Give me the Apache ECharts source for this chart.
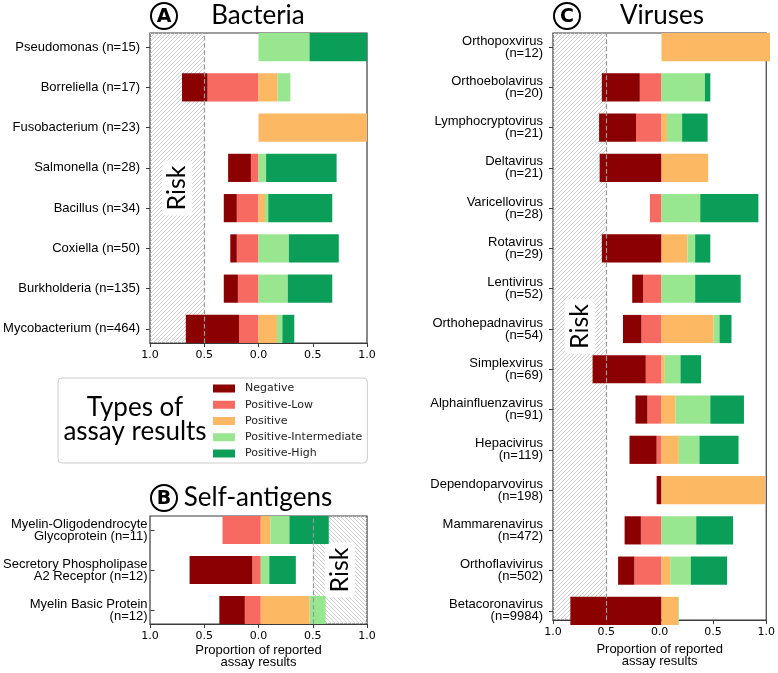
<!DOCTYPE html>
<html>
<head>
<meta charset="utf-8">
<script src="https://cdn.jsdelivr.net/npm/echarts@6/dist/echarts.min.js"></script>
<style>
html, body { margin: 0; padding: 0; background: #fff; }
#chart { width: 778px; height: 673px; }
</style>
</head>
<body>
<div id="chart"></div>
<script>
// assay result types, legend order
const resultTypes = ['Negative', 'Positive-Low', 'Positive', 'Positive-Intermediate', 'Positive-High'];
const resultColors = ['#8b0000', '#f76a62', '#fdb863', '#98e690', '#0a9e58'];

// A - bacteria (proportions)
const bacteria = ['Pseudomonas (n=15)', 'Borreliella (n=17)', 'Fusobacterium (n=23)', 'Salmonella (n=28)',
  'Bacillus (n=34)', 'Coxiella (n=50)', 'Burkholderia (n=135)', 'Mycobacterium (n=464)'];
const bacNegative = [0, 0.235, 0, 0.21, 0.12, 0.06, 0.13, 0.49];
const bacPosLow = [0, 0.47, 0, 0.07, 0.2, 0.2, 0.19, 0.18];
const bacPositive = [0, 0.176, 1.0, 0, 0.06, 0, 0, 0.17];
const bacPosInter = [0.47, 0.118, 0, 0.07, 0.03, 0.28, 0.27, 0.05];
const bacPosHigh = [0.53, 0, 0, 0.65, 0.59, 0.46, 0.41, 0.11];

// B - self-antigens
const selfAntigens = ['Myelin-Oligodendrocyte\nGlycoprotein (n=11)', 'Secretory Phospholipase\nA2 Receptor (n=12)',
  'Myelin Basic Protein\n(n=12)'];
const selfNegative = [0, 0.59, 0.24];
const selfPosLow = [0.36, 0.08, 0.15];
const selfPositive = [0.09, 0, 0.46];
const selfPosInter = [0.18, 0.08, 0.15];
const selfPosHigh = [0.37, 0.25, 0];

// C - viruses
const viruses = ['Orthopoxvirus\n(n=12)', 'Orthoebolavirus\n(n=20)', 'Lymphocryptovirus\n(n=21)', 'Deltavirus\n(n=21)',
  'Varicellovirus\n(n=28)', 'Rotavirus\n(n=29)', 'Lentivirus\n(n=52)', 'Orthohepadnavirus\n(n=54)',
  'Simplexvirus\n(n=69)', 'Alphainfluenzavirus\n(n=91)', 'Hepacivirus\n(n=119)', 'Dependoparvovirus\n(n=198)',
  'Mammarenavirus\n(n=472)', 'Orthoflavivirus\n(n=502)', 'Betacoronavirus\n(n=9984)'];
const virNegative = [0, 0.35, 0.34, 0.57, 0, 0.55, 0.10, 0.17, 0.49, 0.11, 0.25, 0.045, 0.15, 0.15, 0.84];
const virPosLow = [0, 0.2, 0.235, 0, 0.107, 0, 0.17, 0.185, 0.145, 0.13, 0.045, 0, 0.19, 0.25, 0];
const virPositive = [1.0, 0, 0.05, 0.43, 0, 0.24, 0, 0.48, 0.03, 0.13, 0.16, 0.955, 0, 0.08, 0.152];
const virPosInter = [0, 0.4, 0.14, 0, 0.357, 0.07, 0.31, 0.055, 0.145, 0.32, 0.19, 0, 0.32, 0.19, 0.008];
const virPosHigh = [0, 0.05, 0.235, 0, 0.536, 0.14, 0.42, 0.11, 0.19, 0.31, 0.36, 0, 0.34, 0.335, 0];

const axisName = 'Proportion of reported\nassay results';

// hatch pattern for the risk zone
function hatch(dir) {
  const s = 4;
  const c = document.createElement('canvas');
  c.width = s; c.height = s;
  const ctx = c.getContext('2d');
  ctx.strokeStyle = '#c8c8c8';
  ctx.lineWidth = 0.9;
  ctx.beginPath();
  for (let o = -s; o <= s; o += s) {
    if (dir === '/') { ctx.moveTo(o - 1, s + 1); ctx.lineTo(o + s + 1, -1); }
    else { ctx.moveTo(o - 1, -1); ctx.lineTo(o + s + 1, s + 1); }
  }
  ctx.stroke();
  return { image: c, repeat: 'repeat' };
}

const panels = [
  { key: 'A', cats: bacteria, vals: [bacNegative, bacPosLow, bacPositive, bacPosInter, bacPosHigh],
    frame: { left: 150, top: 33, width: 217, height: 310 }, risk: [-1, -0.5], cut: -0.5, dir: '/', name: '', margin: 10 },
  { key: 'B', cats: selfAntigens, vals: [selfNegative, selfPosLow, selfPositive, selfPosInter, selfPosHigh],
    frame: { left: 150, top: 516, width: 217, height: 108 }, risk: [0.5, 1], cut: 0.5, dir: '\\', name: axisName, margin: 7 },
  { key: 'C', cats: viruses, vals: [virNegative, virPosLow, virPositive, virPosInter, virPosHigh],
    frame: { left: 553, top: 33, width: 217, height: 592 }, risk: [-1, -0.5], cut: -0.5, dir: '/', name: axisName, margin: 10 }
];

const grid = [], xAxis = [], yAxis = [], series = [];

panels.forEach((p, i) => {
  const f = p.frame;
  const n = p.cats.length;
  const unit = f.height / (n - 0.3);
  const fi = i * 2, bi = i * 2 + 1;

  grid.push({ left: f.left, top: f.top, width: f.width, height: f.height, show: true, borderColor: '#3a3a3a', borderWidth: 1.2 });
  grid.push({ left: f.left, top: f.top - 0.15 * unit, width: f.width, height: n * unit });

  xAxis.push({
    gridIndex: fi, type: 'value', min: -1, max: 1, interval: 0.5,
    axisLine: { show: true, onZero: false, lineStyle: { color: '#3a3a3a', width: 1.2 } },
    axisTick: { show: true, length: 4, lineStyle: { color: '#3a3a3a' } },
    splitLine: { show: false },
    axisLabel: { margin: 7, color: '#000', fontSize: 11, fontFamily: 'DejaVu Sans',
      formatter: v => Math.abs(v).toFixed(1) },
    name: p.name, nameLocation: 'middle', nameGap: 20,
    nameTextStyle: { color: '#000', fontSize: 13, fontFamily: 'Liberation Sans', lineHeight: 12 }
  });
  xAxis.push({ gridIndex: bi, type: 'value', min: -1, max: 1, show: false, axisLine: { onZero: false } });

  yAxis.push({ gridIndex: fi, type: 'value', min: 0, max: 1, show: false, axisLine: { onZero: false } });
  yAxis.push({
    gridIndex: bi, type: 'category', inverse: true, data: p.cats,
    axisLine: { show: false, onZero: false },
    axisTick: { show: true, alignWithLabel: true, length: 4, lineStyle: { color: '#3a3a3a' } },
    axisLabel: { margin: p.margin, color: '#000', fontSize: 13, fontFamily: 'Liberation Sans', lineHeight: 12 }
  });

  // risk zone + dashed threshold
  series.push({
    type: 'line', xAxisIndex: fi, yAxisIndex: fi, data: [[0, 0.5]], showSymbol: false,
    lineStyle: { opacity: 0 }, silent: true, z: 1,
    markArea: {
      silent: true,
      itemStyle: { color: hatch(p.dir), borderWidth: 0 },
      label: { show: true, position: 'inside', formatter: 'Risk', rotate: 90, fontSize: 25, fontFamily: 'Lato',
        color: '#000', backgroundColor: '#fff', padding: [3, 5, 2, 5], borderRadius: 4 },
      data: [[{ xAxis: p.risk[0] }, { xAxis: p.risk[1] }]]
    },
    markLine: {
      silent: true, symbol: 'none', label: { show: false },
      lineStyle: { type: 'dashed', color: '#999', width: 1.2 },
      data: [{ xAxis: p.cut }]
    }
  });

  // stacking order: Positive-Low next to zero, then Negative outward; positives to the right
  [1, 0, 2, 3, 4].forEach(k => {
    series.push({
      name: resultTypes[k], type: 'bar', stack: p.key, xAxisIndex: bi, yAxisIndex: bi,
      barWidth: '70%', z: 3,
      itemStyle: { color: resultColors[k] },
      data: p.vals[k].map(v => (v === 0 ? '-' : (k < 2 ? -v : v)))
    });
  });
});

function circled(letter, cx, cy, title, tx) {
  return [
    { type: 'circle', z: 100, shape: { cx: cx, cy: cy, r: 13 }, style: { fill: '#fff', stroke: '#000', lineWidth: 2 } },
    { type: 'text', z: 100, x: cx, y: cy + 1, style: { text: letter, font: 'bold 19px "DejaVu Sans"', fill: '#000', align: 'center', verticalAlign: 'middle' } },
    { type: 'text', z: 100, x: tx, y: cy, style: { text: title, font: '26px Lato', fill: '#000', align: 'center', verticalAlign: 'middle' } }
  ];
}

const chart = echarts.init(document.getElementById('chart'));
chart.setOption({
  animation: false,
  backgroundColor: '#fff',
  grid: grid,
  xAxis: xAxis,
  yAxis: yAxis,
  legend: {
    data: resultTypes,
    orient: 'vertical',
    left: 58, top: 378,
    padding: [5, 5, 4, 155],
    itemWidth: 22, itemHeight: 8, itemGap: 5.25,
    icon: 'rect',
    backgroundColor: '#fff', borderColor: '#ccc', borderWidth: 1, borderRadius: 4,
    textStyle: { fontSize: 11, fontFamily: 'DejaVu Sans', color: '#222', padding: [0, 0, 0, 5] }
  },
  graphic: {
    elements: [].concat(
      circled('A', 164, 16, 'Bacteria', 258),
      circled('B', 164, 498, 'Self-antigens', 258),
      circled('C', 567, 16, 'Viruses', 662),
      [{ type: 'text', z: 100, x: 135, y: 420, style: { text: 'Types of\nassay results', font: '26px Lato', lineHeight: 24,
        fill: '#000', align: 'center', verticalAlign: 'middle' } }]
    )
  },
  series: series
});
</script>
</body>
</html>
